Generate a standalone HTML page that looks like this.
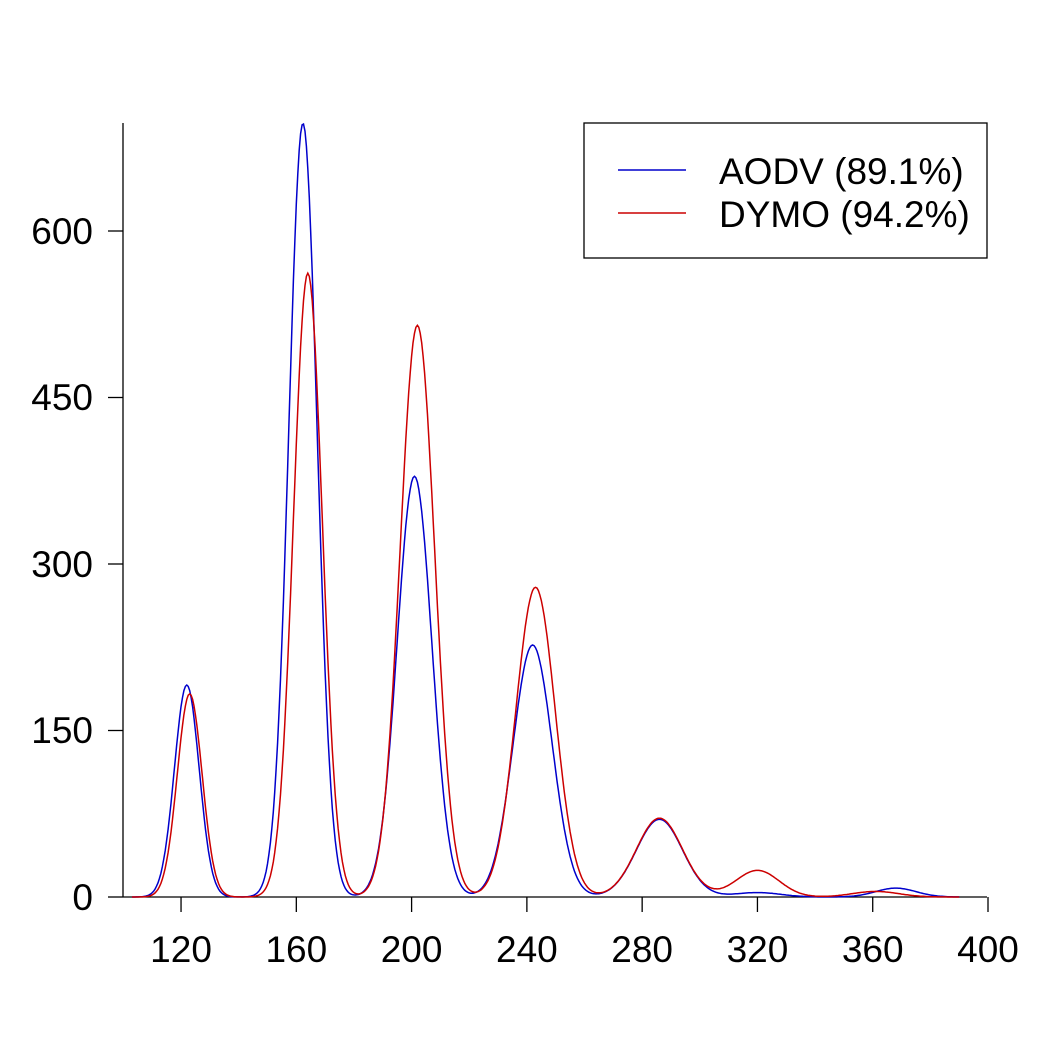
<!DOCTYPE html>
<html><head><meta charset="utf-8"><style>
html,body{margin:0;padding:0;background:#fff;}
svg{display:block;font-family:"Liberation Sans",sans-serif;}
</style></head><body>
<svg id="s" width="1050" height="1050" viewBox="0 0 1050 1050">
<g stroke="#000" stroke-width="1.3" fill="none">
<line x1="123" y1="123" x2="123" y2="897"/>
<line x1="123" y1="897" x2="987" y2="897"/>
<line x1="108" y1="897" x2="123" y2="897"/>
<line x1="108" y1="730.5" x2="123" y2="730.5"/>
<line x1="108" y1="564" x2="123" y2="564"/>
<line x1="108" y1="397.5" x2="123" y2="397.5"/>
<line x1="108" y1="231" x2="123" y2="231"/>
<rect x="584" y="123" width="403" height="135"/>
</g>
<g id="xt" stroke="#000" stroke-width="1.3"></g>
<g font-size="37" text-anchor="end" fill="#000">
<text x="93" y="910">0</text>
<text x="93" y="743">150</text>
<text x="93" y="577">300</text>
<text x="93" y="410">450</text>
<text x="93" y="244">600</text>
</g>
<g id="xl" font-size="37" text-anchor="middle" fill="#000"></g>
<path id="pb" fill="none" stroke="#0000cc" stroke-width="1.5"/>
<path id="pr" fill="none" stroke="#cc0000" stroke-width="1.5"/>
<line x1="618" y1="170" x2="686" y2="170" stroke="#0000cc" stroke-width="1.5"/>
<line x1="618" y1="213" x2="686" y2="213" stroke="#cc0000" stroke-width="1.5"/>
<g font-size="37" fill="#000">
<text x="719" y="184">AODV (89.1%)</text>
<text x="719" y="227">DYMO (94.2%)</text>
</g>
</svg>
<script>
var X=function(v){return 123.4+(v-100)*2.882;},Y=function(v){return 897-v*1.11;};
var ns="http://www.w3.org/2000/svg";
for(var t=120;t<=400;t+=40){
 var l=document.createElementNS(ns,"line");l.setAttribute("x1",X(t));l.setAttribute("x2",X(t));l.setAttribute("y1",897);l.setAttribute("y2",912);document.getElementById("xt").appendChild(l);
 var tx=document.createElementNS(ns,"text");tx.setAttribute("x",X(t));tx.setAttribute("y",962);tx.textContent=t;document.getElementById("xl").appendChild(tx);
}
var blue=[[122,191,4.3],[162.3,697,4.9],[201,379,6],[242,227,6.8],[286,70,8],[320,4,8],[368,8,7]];
var red=[[123,183,4.3],[164,562,5.0],[202,515,6],[243,279,6.8],[286,71,8],[320,24,7.5],[361,5,8]];
function path(p){var d="";for(var x=103;x<=390;x+=0.5){var y=0;p.forEach(function(q){y+=q[1]*Math.exp(-Math.pow((x-q[0])/q[2],2)/2);});d+=(d?"L":"M")+X(x).toFixed(1)+","+Y(y).toFixed(1);}return d;}
document.getElementById("pb").setAttribute("d",path(blue));
document.getElementById("pr").setAttribute("d",path(red));
</script>
</body></html>
